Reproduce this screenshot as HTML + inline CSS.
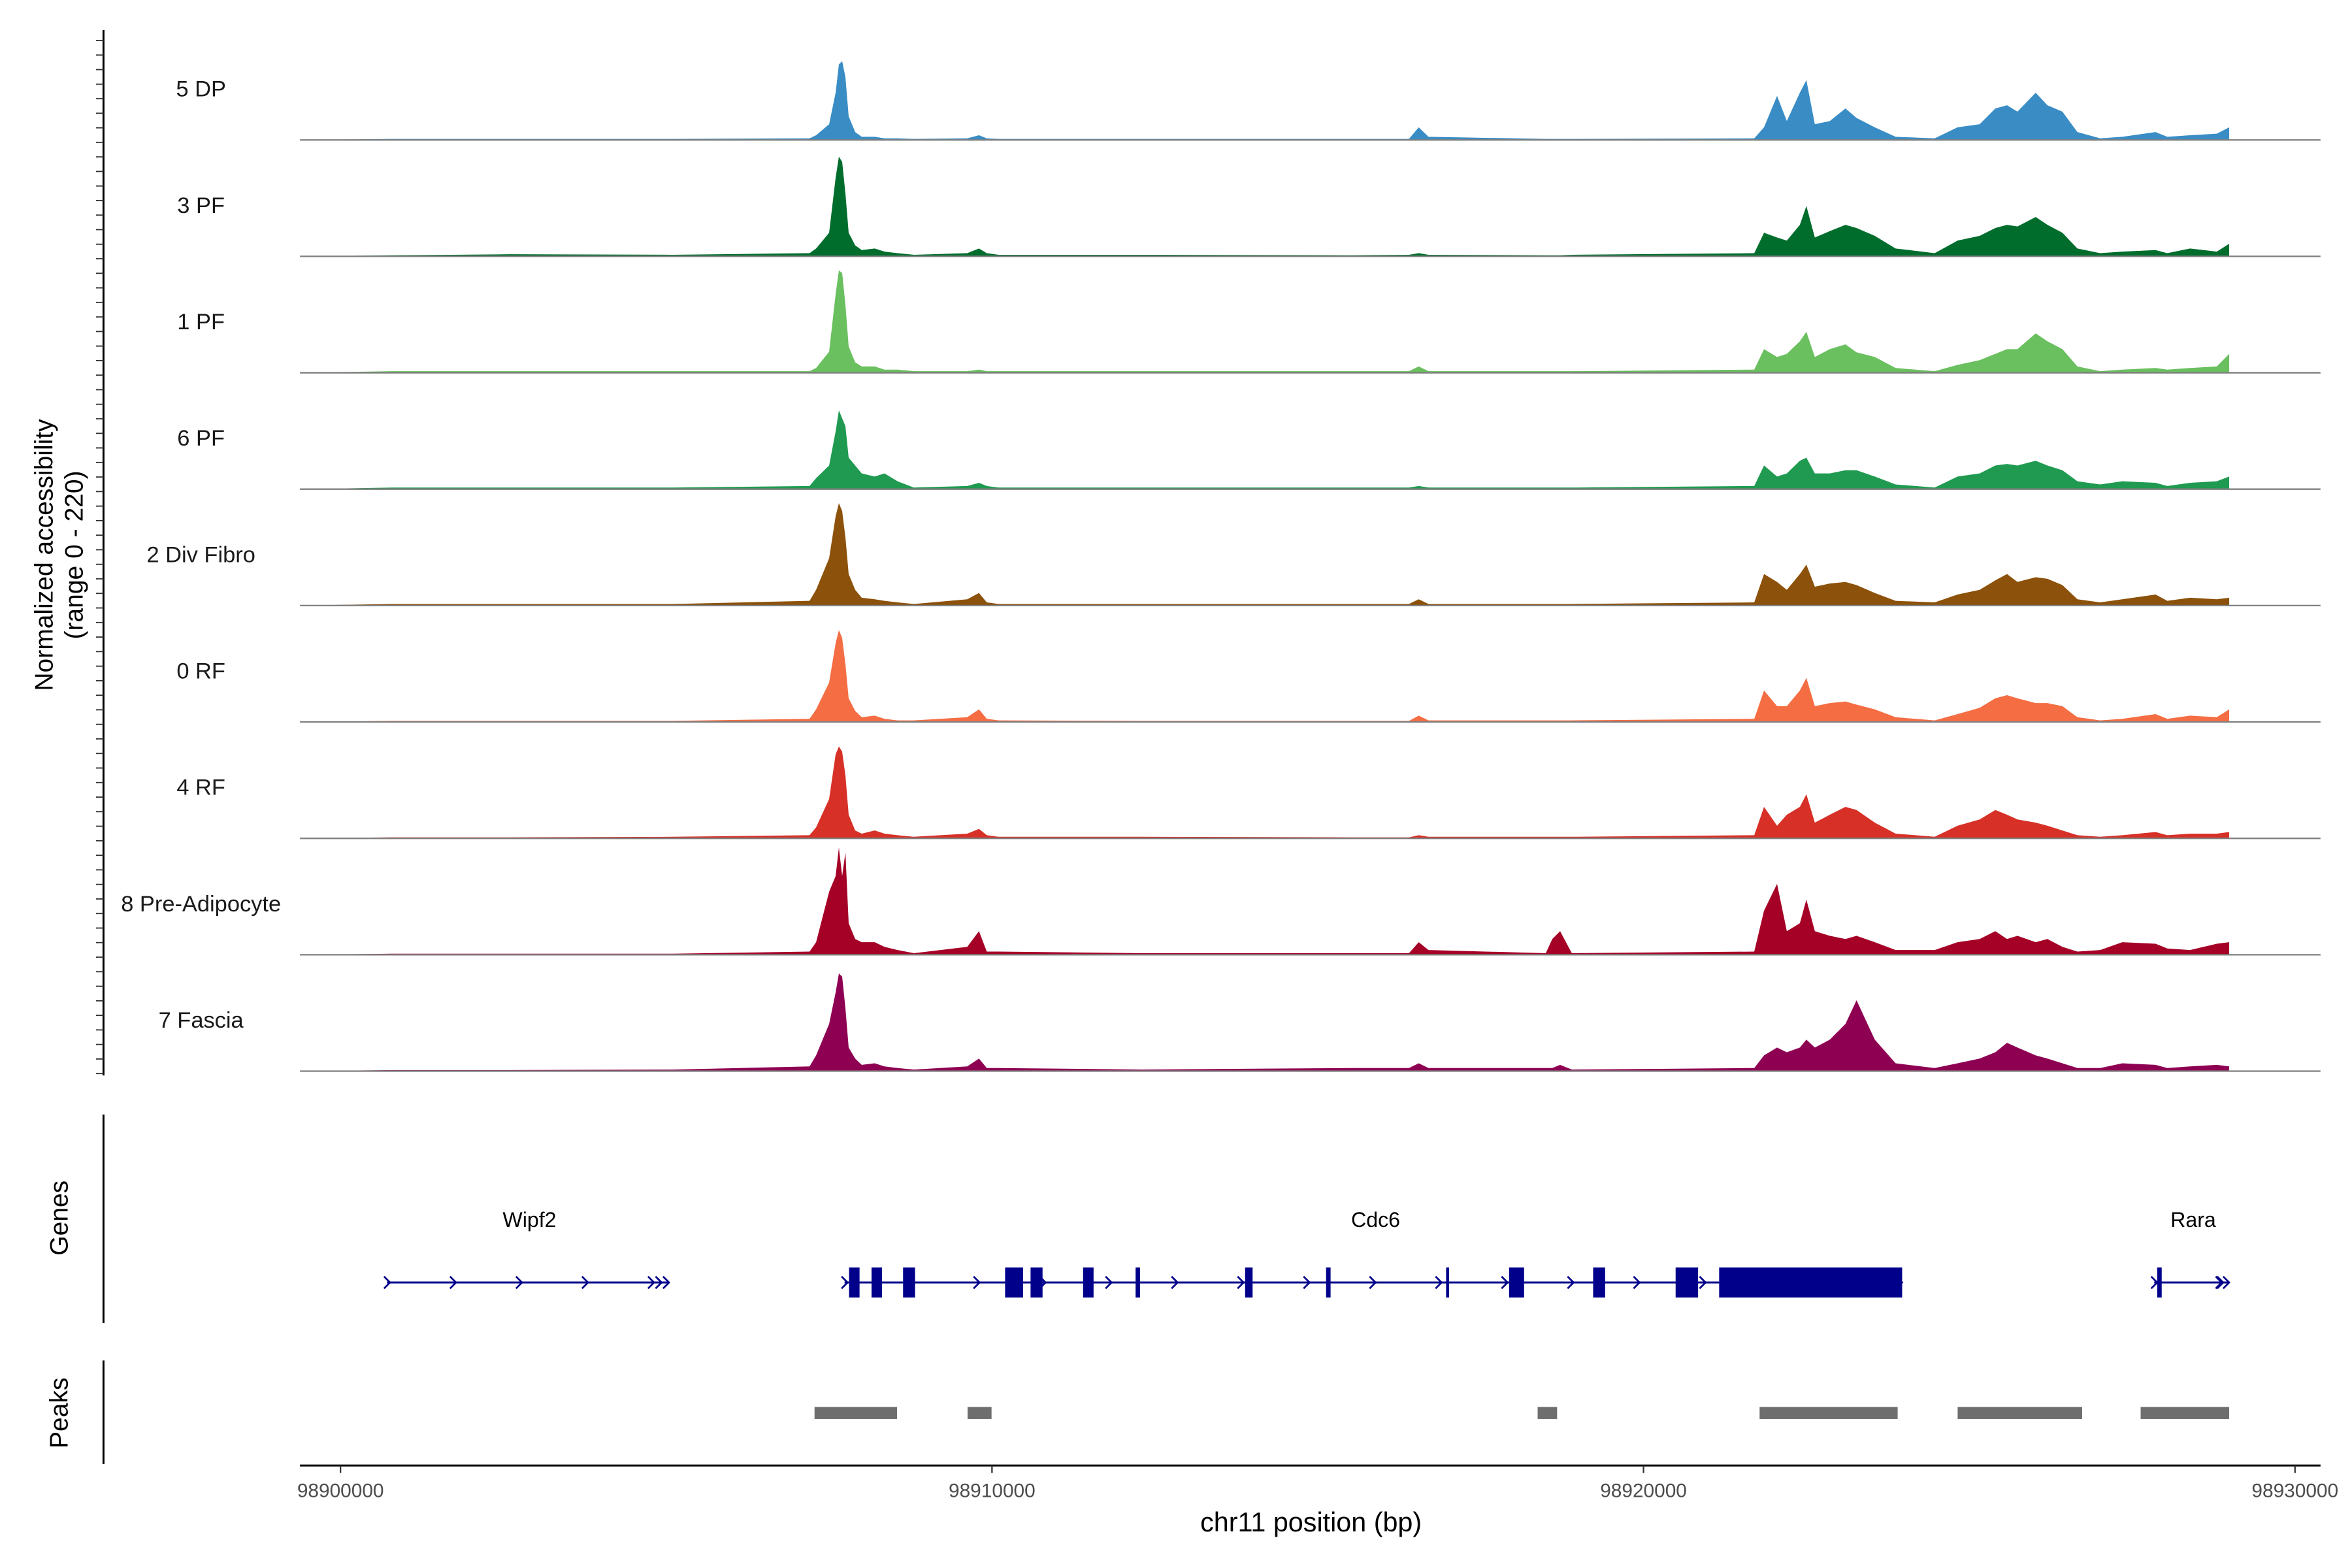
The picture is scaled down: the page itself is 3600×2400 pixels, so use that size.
<!DOCTYPE html>
<html><head><meta charset="utf-8">
<style>html,body{margin:0;padding:0;background:#fff}svg{display:block}text{font-family:"Liberation Sans",Arial,sans-serif}</style>
</head><body>
<svg id="chart" xmlns="http://www.w3.org/2000/svg" width="3600" height="2400" viewBox="0 0 1568 1045.33">
<rect width="1568" height="1045.33" fill="#fff"/>
<g id="tracks"></g>
<g id="genes"></g>
<g id="peaks"></g>
<g id="axes"></g>
</svg>
<script>
const positions=[98899400,98900800,98902600,98905100,98907200,98907300,98907500,98907600,98907650,98907700,98907750,98907800,98907900,98908000,98908200,98908350,98908550,98908800,98909620,98909800,98909920,98910100,98912300,98915500,98916400,98916550,98916700,98918500,98918600,98918720,98918900,98921700,98921850,98922050,98922200,98922400,98922500,98922630,98922860,98923100,98923270,98923550,98923870,98924470,98924820,98925160,98925400,98925580,98925740,98926020,98926200,98926430,98926660,98927010,98927350,98927860,98928040,98928390,98928800,98928990];
const trackNames=["5 DP","3 PF","1 PF","6 PF","2 Div Fibro","0 RF","4 RF","8 Pre-Adipocyte","7 Fascia"];
const trackColors=["#3a8cc4","#006d2c","#6abf5f","#1f9a50","#8c510a","#f46d43","#d73027","#a50026","#8e0152"];
const valsDP=[0,2,2,2,3,9,30,90,144,150,120,45,15,6,6,3,3,2,3,9,3,2,2,2,2,24,6,2,2,2,2,3,24,84,36,90,114,30,36,60,42,24,6,3,24,30,60,66,54,90,66,54,15,3,6,15,6,9,12,24];
const vals3PF=[0,2,4,3,6,15,45,150,190,180,120,45,21,12,15,9,6,3,6,15,6,3,3,2,3,6,3,2,2,2,3,6,45,36,30,60,96,36,48,60,54,39,15,6,30,39,54,60,57,75,60,45,15,6,9,12,6,15,9,24];
const vals1PF=[0,3,3,3,3,9,40,150,195,190,130,50,20,12,12,6,6,3,3,6,3,3,3,3,3,12,3,3,3,3,3,6,45,30,36,60,78,30,45,54,39,30,9,3,15,24,36,45,45,75,60,45,12,3,6,9,6,9,12,36];
const vals6PF=[0,3,3,3,6,21,45,110,150,135,120,60,45,30,24,30,15,3,6,12,6,3,3,3,3,6,3,3,3,3,3,6,45,24,30,54,60,30,30,36,36,24,9,3,24,30,45,48,45,54,45,36,15,9,15,12,6,12,15,24];
const valsDiv=[0,3,3,3,9,30,90,170,195,180,130,60,30,15,12,9,6,3,12,24,6,3,3,3,3,12,3,3,3,3,3,6,60,45,30,60,78,36,42,45,39,24,9,6,21,30,48,60,45,54,51,39,12,6,12,21,9,15,12,15];
const vals0RF=[0,2,2,2,6,24,75,150,175,160,110,45,21,9,12,6,3,3,9,24,6,3,2,2,2,12,3,3,3,3,3,6,60,30,30,60,84,30,36,39,33,24,9,3,15,27,45,51,45,36,36,30,9,3,6,15,6,12,9,24];
const vals4RF=[0,2,2,3,6,21,75,160,175,165,120,45,15,9,15,9,6,3,9,18,6,3,3,2,2,6,3,3,3,3,3,6,60,24,45,60,84,30,45,60,54,30,9,3,24,36,54,45,36,30,24,15,6,3,6,12,6,9,9,12];
const valsPreAd=[0,2,2,2,6,24,120,150,204,150,195,60,30,24,24,15,9,3,15,45,6,6,3,3,3,24,9,3,30,45,3,6,84,135,45,60,105,45,36,30,36,24,9,9,24,30,45,30,36,24,30,15,6,9,24,21,12,9,21,24];
const valsFascia=[0,2,2,3,9,30,90,150,186,180,120,45,24,12,15,9,6,3,9,24,6,6,3,6,6,15,6,6,6,12,3,6,30,45,36,45,60,45,60,90,135,60,15,6,15,24,36,54,45,30,24,15,6,6,15,12,6,9,12,9];
const trackValues=[valsDP,vals3PF,vals1PF,vals6PF,valsDiv,vals0RF,vals4RF,valsPreAd,valsFascia];
const xTicks=[98900000,98910000,98920000,98930000];
const geneNames=["Wipf2","Cdc6","Rara"];
const geneStarts=[98900714,98907737,98927839];
const geneEnds=[98905043,98923970,98928990];
const geneLabelPos=[98902901,98915888,98928438];
const cdc6Exons=[[98907806,98907967],[98908151,98908312],[98908635,98908819],[98910201,98910477],[98910592,98910776],[98911398,98911559],[98912204,98912273],[98913885,98914000],[98915128,98915197],[98916970,98917016],[98917937,98918167],[98919227,98919411],[98920493,98920838],[98921161,98923970]];
const raraExons=[[98927885,98927954]];
const peakStarts=[98907276,98909625,98918375,98921782,98924822,98927631];
const peakEnds=[98908543,98909993,98918674,98923901,98926733,98928990];

const NS="http://www.w3.org/2000/svg";
function mk(tag,attrs,parent){const e=document.createElementNS(NS,tag);for(const k in attrs)e.setAttribute(k,attrs[k]);parent.appendChild(e);return e;}
const xScale=bp=>227+(bp-98900000)*(1303/30000);
const trackH=77.6, base0=93.3, yMax=220, plotH=77;
const tracks=document.getElementById('tracks');
trackNames.forEach((name,i)=>{
  const base=base0+i*trackH;
  const y=v=>base-v/yMax*plotH;
  const g=mk('g',{},tracks);
  
  
  let d='M'+xScale(positions[0])+','+base;
  positions.forEach((p,j)=>{d+=' L'+xScale(p).toFixed(2)+','+y(trackValues[i][j]).toFixed(2);});
  d+=' L'+xScale(positions[positions.length-1])+','+base+' Z';
  const a=mk('path',{d:d,fill:trackColors[i]},g);
  
  
  const bl=mk('line',{x1:200,x2:1547,y1:base,y2:base,stroke:'#7f7f7f','stroke-width':1},g);
  
  
  const t=mk('text',{x:134,y:base-29,'text-anchor':'middle','font-size':15,fill:'#1a1a1a'},g);
  t.textContent=name;
  
  
});
const axes=document.getElementById('axes');
let l=mk('line',{x1:69,x2:69,y1:20,y2:717,stroke:'#000','stroke-width':1.3},axes);

for(let y=27;y<716;y+=9.7){const tk=mk('line',{x1:64,x2:69,y1:y,y2:y,stroke:'#333','stroke-width':0.8},axes);

}
let yt=mk('text',{transform:'translate(35,370) rotate(-90)','text-anchor':'middle','font-size':17},axes);yt.textContent='Normalized accessibility';

let yt2=mk('text',{transform:'translate(55,370) rotate(-90)','text-anchor':'middle','font-size':17},axes);yt2.textContent='(range 0 - 220)';

l=mk('line',{x1:69,x2:69,y1:743,y2:882,stroke:'#000','stroke-width':1.3},axes);

let gt=mk('text',{transform:'translate(45,812) rotate(-90)','text-anchor':'middle','font-size':17},axes);gt.textContent='Genes';

l=mk('line',{x1:69,x2:69,y1:907,y2:976,stroke:'#000','stroke-width':1.3},axes);

let pt=mk('text',{transform:'translate(45,942) rotate(-90)','text-anchor':'middle','font-size':17},axes);pt.textContent='Peaks';

l=mk('line',{x1:200,x2:1547,y1:977,y2:977,stroke:'#000','stroke-width':1.3},axes);

xTicks.forEach(v=>{const x=xScale(v);
 const tk=mk('line',{x1:x,x2:x,y1:977,y2:982,stroke:'#333','stroke-width':1},axes);
 
 const t=mk('text',{x:x,y:998,'text-anchor':'middle','font-size':13,fill:'#4d4d4d'},axes);t.textContent=v;
 });
let xt=mk('text',{x:874,y:1021,'text-anchor':'middle','font-size':18},axes);xt.textContent='chr11 position (bp)';

const genes=document.getElementById('genes');
const gy=855, blue='#00008b';
function arrow(x,parent){const p=mk('path',{d:`M${x-4},${gy-4} L${x},${gy} L${x-4},${gy+4}`,stroke:blue,'stroke-width':1.2,fill:'none'},parent);
 }
geneNames.forEach((n,i)=>{
 const g=mk('g',{},genes);
 
 const x1=xScale(geneStarts[i]),x2=xScale(geneEnds[i]);
 const ln=mk('line',{x1:x1,x2:x2,y1:gy,y2:gy,stroke:blue,'stroke-width':1.3},g);
 
 for(let x=x1+2;x<=x2;x+=44)arrow(x,g);
 arrow(x2,g);arrow(x2-5,g);
 const ex=n==='Cdc6'?cdc6Exons:(n==='Rara'?raraExons:[]);
 ex.forEach(e=>{const r=mk('rect',{x:xScale(e[0]),y:gy-10,width:Math.max(2,xScale(e[1])-xScale(e[0])),height:20,fill:blue},g);
  });
 const t=mk('text',{x:xScale(geneLabelPos[i]),y:818,'text-anchor':'middle','font-size':14},g);t.textContent=n;
 
});
const peaks=document.getElementById('peaks');
peakStarts.forEach((s,i)=>{const r=mk('rect',{x:xScale(s),y:938,width:xScale(peakEnds[i])-xScale(s),height:8,fill:'#6e6e6e'},peaks);
 });
</script>
</body></html>
